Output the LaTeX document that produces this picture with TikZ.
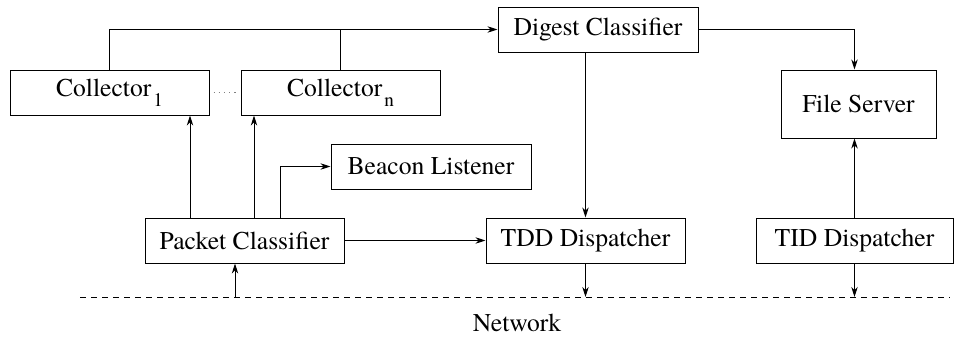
\documentclass[tikz,border=0pt]{standalone}
\usepackage{fontspec}
\setmainfont{texgyretermes}[Extension=.otf, UprightFont=*-regular, BoldFont=*-bold,
  ItalicFont=*-italic, BoldItalicFont=*-bolditalic]
\usepackage{tikz}
\usetikzlibrary{calc, arrows.meta, positioning}
\tikzset{
    rectanglenode/.style = {draw, rectangle, inner sep = 0em, node distance=0em, line width=0.5pt, 
      font=\fontsize{12.8}{15}\selectfont},
    textnode/.style  = {draw=none, fill=none, rectangle, minimum size=0cm, inner sep = 0em, 
      node distance=0em, font=\fontsize{12.8}{15}\selectfont},
    connect/.style = {black, line width=0.5pt, -{Stealth[length=5pt,width=3.2pt]}},
    plainline/.style = {black, line width=0.5pt},
    netline/.style = {black, line width=0.5pt, dash pattern=on 3pt off 2.5pt},
    dotsline/.style = {gray, line width=0.5pt, dash pattern=on 0.6pt off 2pt}
}
\newcommand{\lowidx}[1]{\kern1pt\raisebox{-5pt}{\fontsize{9.6}{11}\selectfont #1}}

\begin{document}
\begin{tikzpicture}[x=0.5pt, y=-0.5pt]
    \useasboundingbox (0,0) rectangle (954,337);

    \node [name=pc, rectanglenode, minimum width=99.5pt, minimum height=22.5pt] 
        at (244.5,240.5) {Packet Classifier};

    \node [name=c1, rectanglenode, minimum width=99.5pt, minimum height=22.5pt, 
        right of = pc, xshift=-67.5pt, yshift=74pt] {Collector\lowidx{1}};
    \node [name=cn, rectanglenode, minimum width=99.5pt, minimum height=22.5pt, 
        right of = pc, xshift=48pt, yshift=74pt] {Collector\lowidx{n}};

    \node [name=dc, rectanglenode, minimum width=100pt, minimum height=22.5pt, 
        right of = pc, xshift=176.75pt, yshift=105.5pt] {Digest Classifier};
    \node [name=bl, rectanglenode, minimum width=100pt, minimum height=22.5pt, 
        right of = pc, xshift=93.25pt, yshift=37pt] {Beacon Listener};

    \node [name=tdd, rectanglenode, minimum width=99.5pt, minimum height=22.5pt, 
        right of = pc, xshift=170.5pt] {TDD Dispatcher};
    \node [name=tid, rectanglenode, minimum width=98.5pt, minimum height=22.5pt, 
        right of = pc, xshift=305pt] {TID Dispatcher};
    \node [name=fs, rectanglenode, minimum width=77.5pt, minimum height=34pt, 
        right of = pc, xshift=307pt, yshift=68.25pt] {File Server};

    \node [name=net, textnode, right of = pc, xshift=136.25pt, yshift=-41.25pt] {Network};
    \coordinate (netl) at (80,297);
    \coordinate (netr) at (950,297);
    \draw [netline] (netl) -- (netr);

    \draw [dotsline] ([xshift=2pt]c1.east) -- ([xshift=-2pt]cn.west);

    \draw [connect] (c1.north) |- (dc.west);
    \draw [plainline] (cn.north) -- (cn.north |- dc.west);
    \draw [connect] (dc.east) -| (tid.north |- fs.north);
    \draw [connect] (dc.south -| tdd.north) -- (tdd.north);

    \draw [connect] ([xshift=-27.25pt]pc.north) -- ([xshift=-27.25pt]pc.north |- c1.south);
    \draw [connect] ([xshift=4.75pt]pc.north) -- ([xshift=4.75pt]pc.north |- cn.south);
    \draw [connect] ([xshift=17.75pt]pc.north) |- (bl.west);
    \draw [connect] (pc.east) -- (tdd.west);
    \draw [connect] ([xshift=-4.75pt]pc.south |- netl) -- ([xshift=-4.75pt]pc.south);

    \draw [connect] (tid.north) -- (tid.north |- fs.south);
    \draw [connect] (tdd.south) -- (tdd.south |- netl);
    \draw [connect] (tid.south) -- (tid.south |- netl);
\end{tikzpicture}
\end{document}
